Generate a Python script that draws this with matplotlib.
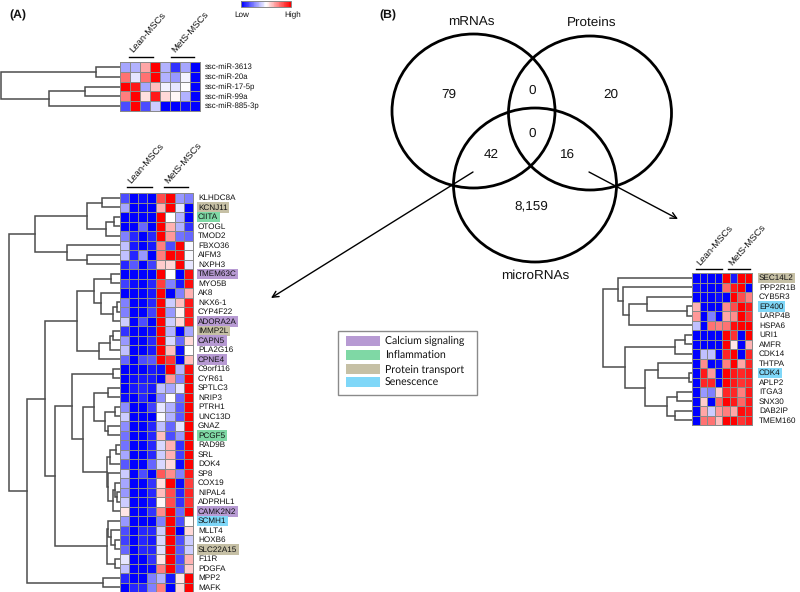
"""Heatmaps with dendrograms plus a three-way Venn diagram."""

import numpy as np
import matplotlib
matplotlib.use("Agg")
import matplotlib.pyplot as plt
from matplotlib.colors import LinearSegmentedColormap
from matplotlib.patches import Ellipse, Rectangle

plt.rcParams["font.family"] = ["Liberation Sans", "DejaVu Sans"]
plt.rcParams["text.hinting"] = "none"

# ── Data ──────────────────────────────────────────────────────
MIR_LABELS = ["ssc-miR-3613", "ssc-miR-20a", "ssc-miR-17-5p", "ssc-miR-99a", "ssc-miR-885-3p"]
MIR_VALUES = [
    [-.35, -.3, .35, 1, -.3, -.8, -.35, -1],
    [.55, -.1, .55, 1, -.3, -.4, -.05, -1],
    [1, .9, -.35, .25, -.05, -.1, 0, -1],
    [.5, 1, .12, .9, .15, .03, -.3, -1],
    [-.7, 1, -.7, -.2, -1, -1, -.95, -1],
]

MRNA_LABELS = ["KLHDC8A", "KCNJ11", "CIITA", "OTOGL", "TMOD2", "FBXO36", "AIFM3", "NXPH3",
               "TMEM63C", "MYO5B", "AK8", "NKX6-1", "CYP4F22", "ADORA2A", "IMMP2L", "CAPN5",
               "PLA2G16", "CPNE4", "C9orf116", "CYR61", "SPTLC3", "NRIP3", "PTRH1", "UNC13D",
               "GNAZ", "PCGF5", "RAD9B", "SRL", "DOK4", "SP8", "COX19", "NIPAL4", "ADPRHL1",
               "CAMK2N2", "SCMH1", "MLLT4", "HOXB6", "SLC22A15", "F11R", "PDGFA", "MPP2", "MAFK"]
MRNA_VALUES = [
    [-.7, -1, -.95, -1, .7, 1, -.4, -.5],
    [-.35, -1, -1, -1, .3, 1, -.1, -1],
    [-1, -1, -1, -1, 1, 0, -.3, -1],
    [-1, -1, -.6, -1, 1, .3, -.3, -.8],
    [-.5, -.85, -1, -.85, 1, .4, -.55, -.6],
    [-.25, -.9, -1, -.9, .5, -.7, 1, -.03],
    [-.25, -.85, -.4, -1, .5, 1, .95, -.03],
    [-.85, -.65, -1, -.75, .2, .15, 1, -.1],
    [-1, -1, -1, -1, 1, 0, -1, .95],
    [-.75, -.95, -1, -.85, .75, -.5, -.9, .95],
    [-1, -1, -1, -.9, 1, -1, -.5, .3],
    [-.5, -1, -1, -.85, 1, -.2, .25, .9],
    [-.5, -1, -1, -.75, 1, -.4, .05, .9],
    [-.2, -1, -.7, -1, 1, -.2, .15, .9],
    [-.8, -1, -1, -.95, 1, -.3, -1, -.35],
    [-.4, -1, -1, -.85, 1, -.15, -.6, .15],
    [-.25, -1, -1, -.9, 1, .25, -.95, 0],
    [-.6, -1, -.7, -.65, 1, .8, -1, .25],
    [-1, -1, -1, -.9, -.95, 1, -.3, .95],
    [-1, -.95, -.9, -.9, -1, .4, -.5, 1],
    [-1, -.9, -.85, -.9, -.25, -.35, -.1, 1],
    [-.95, -1, -.85, -1, -.45, 0, -.6, 1],
    [-.45, -1, -1, -.75, -.1, -.3, -.65, 1],
    [-.2, -1, -1, -1, -.02, -.3, -.65, 1],
    [-.45, -1, -1, -.85, -.25, -.6, -.1, 1],
    [-.55, -1, -1, -.85, .25, -.7, -.4, 1],
    [-.55, -1, -1, -.85, -.15, .3, -.8, 1],
    [-.35, -1, -1, -.85, -.2, .3, -.75, 1],
    [-.65, -1, -1, -.6, -.15, .15, -.95, 1],
    [-.2, -1, -.7, -1, .65, .45, -.5, .9],
    [-.35, -1, -1, -.8, .12, 1, -.95, .75],
    [-.4, -1, -1, -.85, .25, .7, -.85, .85],
    [-.2, -1, -1, -.9, .03, .7, -.8, .8],
    [.1, -1, -1, -.8, .45, 1, -.6, 1],
    [-.4, -1, -1, -1, -.5, 1, -.7, .02],
    [-.7, -1, -.85, -.85, -.2, 1, -1, .15],
    [-.75, -1, -.85, -.9, -.15, 1, -.7, -.2],
    [-.6, -1, -.85, -.85, -.12, 1, -.65, -.2],
    [-.1, -1, -1, -.8, .1, 1, -.7, .3],
    [-.25, -1, -1, -.95, .5, 1, -.65, .2],
    [-.85, -1, -1, -.5, -.3, -.9, .1, 1],
    [-1, -.85, -.85, -.5, .5, -1, .15, 1],
]

OVERLAP_LABELS = ["SEC14L2", "PPP2R1B", "CYB5R3", "EP400", "LARP4B", "HSPA6", "URI1", "AMFR",
                  "CDK14", "THTPA", "CDK4", "APLP2", "ITGA3", "SNX30", "DAB2IP", "TMEM160"]
OVERLAP_VALUES = [
    [-1, -1, -1, -1, 1, -.9, 1, 1],
    [-.95, -1, -1, -1, .6, .9, 1, -1],
    [-1, -1, -1, -.95, -1, 1, .7, .5],
    [.3, -1, -1, -1, .45, .7, 1, .9],
    [.4, -1, -.5, -1, .35, .45, 1, .8],
    [-.25, -1, .55, .5, .55, .95, 1, 1],
    [-1, -1, -1, -1, 1, .8, -1, 1],
    [-1, -1, -1, -1, 1, .1, -1, .3],
    [-1, -.25, -.25, -1, .85, 1, -1, .85],
    [-1, .45, -1, -.95, .5, 1, .35, .85],
    [-1, .9, .4, -1, 1, .9, .85, .9],
    [-1, .85, .85, -1, 1, .9, .8, .85],
    [-1, -.4, -.5, .2, .85, .85, .5, .9],
    [-1, .2, -1, .6, 1, .9, .6, .9],
    [-1, .35, -.2, .4, .5, .35, .95, .9],
    [-1, .55, .55, .25, 1, 1, .8, .9],
]

# dendrograms: [merge height, upper child, lower child], L is a leaf, leaves run in row order
L = None
MIR_TREE = [119, [24, L, L], [71, [35, L, L], L]]
MRNA_TREE = [111,
             [84.5,
              [32.5, [17.5, L, L], [13.5, [5.5, L, L], L]],
              [52.5, L, [32.5, L, L]]],
             [92.5,
              [74.5,
               [42.5,
                [25.5, [8.5, L, L], [18.5, L, [6.5, [3, L, L], L]]],
                [20.5, [9.5, [6.5, L, L], L], L]],
               [64.5,
                [47.5,
                 [6.5, L, L],
                 [36.5,
                  [25.5, [11.5, L, L], [14.5, [4.5, L, L], [11.5, L, L]]],
                  [13, [9.5, [4, L, L], L], [11.5, L, [7, [5, L, [3, L, L]], L]]]]],
                [12.5, [11.5, L, [9, L, [5, L, L]]], [5, L, L]]]],
              [16.5, L, L]]]
OVERLAP_TREE = [89,
                [74, L, [69, L, [63, [45, L, [5, L, L]], L]]],
                [67,
                 [17, [7, L, L], L],
                 [47, [34, L, [3, L, L]], [25, [15, L, L], [17, L, L]]]]]

CATEGORIES = ["Calcium signaling", "Inflammation", "Protein transport", "Senescence"]
CATEGORY_COLORS = ["#b79ad3", "#7fd8a5", "#c6c0a5", "#7fd7f8"]
CATEGORY_GENES = [
    ["TMEM63C", "ADORA2A", "CAPN5", "CPNE4", "CAMK2N2"],
    ["CIITA", "PCGF5"],
    ["KCNJ11", "IMMP2L", "SLC22A15", "SEC14L2"],
    ["SCMH1", "EP400", "CDK4"],
]

VENN_SETS = ["mRNAs", "Proteins", "microRNAs"]
VENN_COUNTS = ["79", "0", "20", "0", "42", "16", "8,159"]

# ── Styles ────────────────────────────────────────────────────
BWR = LinearSegmentedColormap.from_list("bwr2", ["#0000ff", "#ffffff", "#ff0000"])
TREE_COLOR = "#4d4d4d"
GRID_COLOR = "#8a8a8a"
TEXT_COLOR = "#111111"


def gene_color(name):
    for genes, color in zip(CATEGORY_GENES, CATEGORY_COLORS):
        if name in genes:
            return color
    return None


def draw_tree(ax, node, right, rows, counter):
    """Draw one dendrogram node, returns (x, y) of where it joins its parent."""
    if node is None:
        y = rows[counter[0]]
        counter[0] += 1
        return right, y
    x = right - node[0]
    x1, y1 = draw_tree(ax, node[1], right, rows, counter)
    x2, y2 = draw_tree(ax, node[2], right, rows, counter)
    ax.plot([x1, x, x, x2], [y1, y1, y2, y2], color=TREE_COLOR, lw=1.1,
            solid_joinstyle="miter", zorder=2)
    return x, (y1 + y2) / 2


def draw_heatmap(ax, values, labels, tree, left, right, top, bottom, label_x, fontsize=5.9):
    values = np.array(values)
    n_rows, n_cols = values.shape
    xs = np.linspace(left, right, n_cols + 1)
    ys = np.linspace(top, bottom, n_rows + 1)
    ax.pcolormesh(xs, ys, values, cmap=BWR, vmin=-1, vmax=1,
                  edgecolors=GRID_COLOR, linewidth=0.7, zorder=3)
    rows = (ys[:-1] + ys[1:]) / 2
    draw_tree(ax, tree, left, rows, [0])
    for y, name in zip(rows, labels):
        color = gene_color(name)
        box = dict(facecolor=color, edgecolor="none", pad=1.0) if color else None
        ax.text(label_x, y + 0.3, name, fontsize=fontsize, va="center", ha="left",
                color=TEXT_COLOR, bbox=box)


def draw_group(ax, text, x0, x1, y, fontsize=6.8):
    ax.plot([x0, x1], [y, y], color="black", lw=1.0)
    ax.text(x0 + 6, y - 2, text, rotation=49, rotation_mode="anchor",
            fontsize=fontsize, ha="left", va="bottom", color=TEXT_COLOR)


# ── Figure ────────────────────────────────────────────────────
fig = plt.figure(figsize=(8, 5.92), dpi=100)
ax = fig.add_axes([0, 0, 1, 1])
ax.set_xlim(0, 800)
ax.set_ylim(592, 0)
ax.axis("off")

ax.text(9, 15, "(A)", fontsize=8.8, fontweight="bold", va="center", color=TEXT_COLOR)
ax.text(379, 15, "(B)", fontsize=8.8, fontweight="bold", va="center", color=TEXT_COLOR)

# colour key
grad = np.linspace(-1, 1, 60).reshape(1, -1)
ax.pcolormesh(np.linspace(241, 291, 61), [1, 7], grad, cmap=BWR, vmin=-1, vmax=1)
ax.add_patch(Rectangle((241, 1), 50, 6, fill=False, edgecolor="#888888", lw=0.7))
ax.text(242, 15, "Low", fontsize=5.9, ha="center", va="center", color=TEXT_COLOR)
ax.text(293, 15, "High", fontsize=5.9, ha="center", va="center", color=TEXT_COLOR)

# heatmaps
draw_heatmap(ax, MIR_VALUES, MIR_LABELS, MIR_TREE, 120, 199.5, 62, 111, 205, fontsize=5.6)
draw_group(ax, "Lean-MSCs", 129, 153, 56.5)
draw_group(ax, "MetS-MSCs", 171, 194, 56.5)

draw_heatmap(ax, MRNA_VALUES, MRNA_LABELS, MRNA_TREE, 119.5, 193, 193, 592, 198)
draw_group(ax, "Lean-MSCs", 127, 152, 187)
draw_group(ax, "MetS-MSCs", 164, 188, 187)

draw_heatmap(ax, OVERLAP_VALUES, OVERLAP_LABELS, OVERLAP_TREE, 692, 752, 273, 425, 759)
draw_group(ax, "Lean-MSCs", 696, 722, 269)
draw_group(ax, "MetS-MSCs", 728, 750, 269)

# venn
for cx, cy in [(473.5, 111), (590, 113), (535, 185)]:
    ax.add_patch(Ellipse((cx, cy), 163, 154, fill=False, edgecolor="black", lw=2.0, zorder=4))

for text, (x, y) in zip(VENN_SETS, [(471, 23), (592, 23), (535, 276)]):
    ax.text(x, y, text, fontsize=9.7, ha="center", va="center", color=TEXT_COLOR)
count_pos = [(449, 95), (532, 91), (611, 95), (532, 134), (491, 155), (567, 155), (531, 206)]
for text, (x, y) in zip(VENN_COUNTS, count_pos):
    ax.text(x, y, text, fontsize=9.7, ha="center", va="center", color=TEXT_COLOR)

# arrows
arrow = dict(arrowstyle="->", color="black", lw=1.0, shrinkA=0, shrinkB=0, mutation_scale=11)
ax.annotate("", xy=(271, 298), xytext=(473, 172), arrowprops=arrow, zorder=5)
ax.annotate("", xy=(678, 219), xytext=(589, 172), arrowprops=arrow, zorder=5)

# category legend
ax.add_patch(Rectangle((338, 331), 139, 64, facecolor="white", edgecolor="#8a8a8a", lw=1.0))
for i, (name, color) in enumerate(zip(CATEGORIES, CATEGORY_COLORS)):
    y = 341 + i * 13.8
    ax.add_patch(Rectangle((345.5, y - 5), 34, 10, facecolor=color, edgecolor="none"))
    ax.text(385, y, name, fontsize=7.6, family=["Lato", "DejaVu Sans"], ha="left", va="center",
            color=TEXT_COLOR)

fig.savefig("out.png", dpi=100)
